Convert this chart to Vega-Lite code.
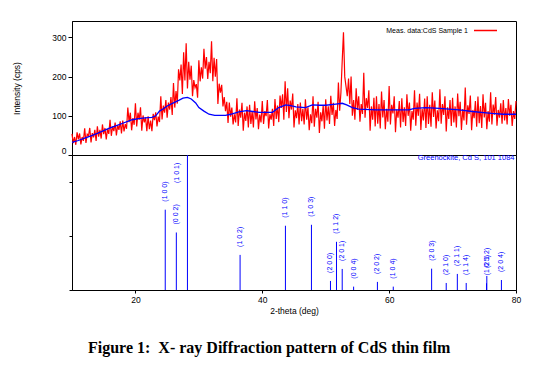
{
"$schema":"https://vega.github.io/schema/vega-lite/v6.json",
"autosize":{"type":"pad"},
"padding":{"left":11,"top":17,"right":5,"bottom":5},
"background":"#ffffff",
"spacing":0,
"bounds":"flush",
"title":{"text":"Figure 1:\u00a0 X- ray Diffraction pattern of CdS thin film","orient":"bottom","anchor":"start","frame":"group","dx":16,"offset":24,"font":"Liberation Serif","fontSize":16,"fontWeight":"bold","color":"#000000"},
"config":{"font":"Liberation Sans","view":{"stroke":"#000000","strokeWidth":1},
"axis":{"domainColor":"#000000","tickColor":"#000000","labelColor":"#000000","titleColor":"#000000","titleFontWeight":"normal","grid":false,"labelFont":"Liberation Sans","titleFont":"Liberation Sans","labelFontSize":8.5,"titleFontSize":8.5},
"legend":{"padding":0,"labelFont":"Liberation Sans"}},
"resolve":{"scale":{"color":"independent","x":"shared"},"legend":{"color":"independent"}},
"datasets":{
"meas":[
{"t":10.0,"c":54},{"t":10.2,"c":30},{"t":10.4,"c":46},{"t":10.6,"c":26},{"t":10.8,"c":58},{"t":11.0,"c":40},{"t":11.2,"c":55},{"t":11.4,"c":27},{"t":11.6,"c":46},{"t":11.8,"c":36},
{"t":12.0,"c":68},{"t":12.2,"c":31},{"t":12.4,"c":53},{"t":12.6,"c":49},{"t":12.8,"c":69},{"t":13.0,"c":32},{"t":13.2,"c":56},{"t":13.4,"c":45},{"t":13.6,"c":64},{"t":13.8,"c":36},
{"t":14.0,"c":73},{"t":14.2,"c":47},{"t":14.4,"c":64},{"t":14.6,"c":42},{"t":14.8,"c":78},{"t":15.0,"c":53},{"t":15.2,"c":69},{"t":15.4,"c":40},{"t":15.6,"c":66},{"t":15.8,"c":54},
{"t":16.0,"c":90},{"t":16.2,"c":49},{"t":16.4,"c":73},{"t":16.6,"c":61},{"t":16.8,"c":83},{"t":17.0,"c":50},{"t":17.2,"c":76},{"t":17.4,"c":64},{"t":17.6,"c":86},{"t":17.8,"c":55},
{"t":18.0,"c":88},{"t":18.2,"c":60},{"t":18.4,"c":79},{"t":18.6,"c":67},{"t":18.8,"c":121},{"t":19.0,"c":84},{"t":19.2,"c":108},{"t":19.4,"c":63},{"t":19.6,"c":94},{"t":19.8,"c":77},
{"t":20.0,"c":132},{"t":20.2,"c":73},{"t":20.4,"c":108},{"t":20.6,"c":90},{"t":20.8,"c":122},{"t":21.0,"c":62},{"t":21.2,"c":101},{"t":21.4,"c":83},{"t":21.6,"c":96},{"t":21.8,"c":61},
{"t":22.0,"c":99},{"t":22.2,"c":66},{"t":22.4,"c":88},{"t":22.6,"c":61},{"t":22.8,"c":105},{"t":23.0,"c":89},{"t":23.2,"c":109},{"t":23.4,"c":73},{"t":23.6,"c":98},{"t":23.8,"c":84},
{"t":24.0,"c":150},{"t":24.2,"c":91},{"t":24.4,"c":126},{"t":24.6,"c":108},{"t":24.8,"c":140},{"t":25.0,"c":95},{"t":25.2,"c":134},{"t":25.4,"c":116},{"t":25.6,"c":148},{"t":25.8,"c":102},
{"t":26.0,"c":184},{"t":26.2,"c":121},{"t":26.4,"c":163},{"t":26.6,"c":131},{"t":26.8,"c":219},{"t":27.0,"c":190},{"t":27.2,"c":231},{"t":27.4,"c":156},{"t":27.6,"c":262},{"t":27.8,"c":190},
{"t":28.0,"c":285},{"t":28.2,"c":170},{"t":28.4,"c":238},{"t":28.6,"c":192},{"t":28.8,"c":228},{"t":29.0,"c":150},{"t":29.2,"c":191},{"t":29.4,"c":172},{"t":29.6,"c":181},{"t":29.8,"c":146},
{"t":30.0,"c":242},{"t":30.2,"c":188},{"t":30.4,"c":224},{"t":30.6,"c":195},{"t":30.8,"c":271},{"t":31.0,"c":220},{"t":31.2,"c":250},{"t":31.4,"c":194},{"t":31.6,"c":238},{"t":31.8,"c":209},
{"t":32.0,"c":290},{"t":32.2,"c":188},{"t":32.4,"c":248},{"t":32.6,"c":200},{"t":32.8,"c":245},{"t":33.0,"c":130},{"t":33.2,"c":182},{"t":33.4,"c":159},{"t":33.6,"c":179},{"t":33.8,"c":124},
{"t":34.0,"c":148},{"t":34.2,"c":112},{"t":34.4,"c":136},{"t":34.6,"c":82},{"t":34.8,"c":134},{"t":35.0,"c":98},{"t":35.2,"c":121},{"t":35.4,"c":78},{"t":35.6,"c":104},{"t":35.8,"c":83},
{"t":36.0,"c":145},{"t":36.2,"c":74},{"t":36.4,"c":116},{"t":36.6,"c":95},{"t":36.8,"c":133},{"t":37.0,"c":62},{"t":37.2,"c":108},{"t":37.4,"c":87},{"t":37.6,"c":124},{"t":37.8,"c":70},
{"t":38.0,"c":128},{"t":38.2,"c":79},{"t":38.4,"c":112},{"t":38.6,"c":70},{"t":38.8,"c":137},{"t":39.0,"c":91},{"t":39.2,"c":120},{"t":39.4,"c":66},{"t":39.6,"c":103},{"t":39.8,"c":83},
{"t":40.0,"c":138},{"t":40.2,"c":79},{"t":40.4,"c":112},{"t":40.6,"c":99},{"t":40.8,"c":140},{"t":41.0,"c":68},{"t":41.2,"c":104},{"t":41.4,"c":90},{"t":41.6,"c":118},{"t":41.8,"c":74},
{"t":42.0,"c":143},{"t":42.2,"c":92},{"t":42.4,"c":126},{"t":42.6,"c":84},{"t":42.8,"c":152},{"t":43.0,"c":120},{"t":43.2,"c":155},{"t":43.4,"c":90},{"t":43.6,"c":188},{"t":43.8,"c":110},
{"t":44.0,"c":170},{"t":44.2,"c":94},{"t":44.4,"c":139},{"t":44.6,"c":116},{"t":44.8,"c":157},{"t":45.0,"c":70},{"t":45.2,"c":114},{"t":45.4,"c":94},{"t":45.6,"c":130},{"t":45.8,"c":78},
{"t":46.0,"c":134},{"t":46.2,"c":86},{"t":46.4,"c":118},{"t":46.6,"c":78},{"t":46.8,"c":142},{"t":47.0,"c":90},{"t":47.2,"c":122},{"t":47.4,"c":63},{"t":47.6,"c":104},{"t":47.8,"c":81},
{"t":48.0,"c":150},{"t":48.2,"c":72},{"t":48.4,"c":118},{"t":48.6,"c":95},{"t":48.8,"c":136},{"t":49.0,"c":56},{"t":49.2,"c":109},{"t":49.4,"c":86},{"t":49.6,"c":127},{"t":49.8,"c":67},
{"t":50.0,"c":142},{"t":50.2,"c":88},{"t":50.4,"c":124},{"t":50.6,"c":79},{"t":50.8,"c":151},{"t":51.0,"c":102},{"t":51.2,"c":133},{"t":51.4,"c":74},{"t":51.6,"c":115},{"t":51.8,"c":92},
{"t":52.0,"c":185},{"t":52.2,"c":113},{"t":52.4,"c":160},{"t":52.6,"c":240},{"t":52.8,"c":313},{"t":53.0,"c":200},{"t":53.2,"c":175},{"t":53.4,"c":150},{"t":53.6,"c":195},{"t":53.8,"c":130},
{"t":54.0,"c":200},{"t":54.2,"c":100},{"t":54.4,"c":140},{"t":54.6,"c":90},{"t":54.8,"c":170},{"t":55.0,"c":115},{"t":55.2,"c":150},{"t":55.4,"c":85},{"t":55.6,"c":130},{"t":55.8,"c":105},
{"t":56.0,"c":210},{"t":56.2,"c":95},{"t":56.4,"c":145},{"t":56.6,"c":120},{"t":56.8,"c":165},
{"t":57.0,"c":62},{"t":57.2,"c":124},{"t":57.4,"c":90},{"t":57.6,"c":146},{"t":57.8,"c":73},{"t":58.0,"c":150},{"t":58.2,"c":80},{"t":58.4,"c":130},{"t":58.6,"c":68},{"t":58.8,"c":162},
{"t":59.0,"c":96},{"t":59.2,"c":140},{"t":59.4,"c":66},{"t":59.6,"c":118},{"t":59.8,"c":85},{"t":60.0,"c":176},{"t":60.2,"c":78},{"t":60.4,"c":128},{"t":60.6,"c":106},{"t":60.8,"c":150},
{"t":61.0,"c":58},{"t":61.2,"c":116},{"t":61.4,"c":95},{"t":61.6,"c":138},{"t":61.8,"c":70},{"t":62.0,"c":145},{"t":62.2,"c":84},{"t":62.4,"c":122},{"t":62.6,"c":74},{"t":62.8,"c":155},
{"t":63.0,"c":100},{"t":63.2,"c":134},{"t":63.4,"c":62},{"t":63.6,"c":112},{"t":63.8,"c":90},{"t":64.0,"c":165},{"t":64.2,"c":75},{"t":64.4,"c":134},{"t":64.6,"c":100},{"t":64.8,"c":156},
{"t":65.0,"c":64},{"t":65.2,"c":118},{"t":65.4,"c":88},{"t":65.6,"c":144},{"t":65.8,"c":69},{"t":66.0,"c":150},{"t":66.2,"c":79},{"t":66.4,"c":128},{"t":66.6,"c":72},{"t":66.8,"c":160},
{"t":67.0,"c":97},{"t":67.2,"c":139},{"t":67.4,"c":68},{"t":67.6,"c":114},{"t":67.8,"c":86},{"t":68.0,"c":168},{"t":68.2,"c":80},{"t":68.4,"c":130},{"t":68.6,"c":102},{"t":68.8,"c":150},
{"t":69.0,"c":60},{"t":69.2,"c":122},{"t":69.4,"c":92},{"t":69.6,"c":140},{"t":69.8,"c":74},{"t":70.0,"c":146},{"t":70.2,"c":83},{"t":70.4,"c":124},{"t":70.6,"c":70},{"t":70.8,"c":157},
{"t":71.0,"c":99},{"t":71.2,"c":136},{"t":71.4,"c":64},{"t":71.6,"c":117},{"t":71.8,"c":88},{"t":72.0,"c":172},{"t":72.2,"c":77},{"t":72.4,"c":127},{"t":72.6,"c":105},{"t":72.8,"c":152},
{"t":73.0,"c":63},{"t":73.2,"c":115},{"t":73.4,"c":94},{"t":73.6,"c":138},{"t":73.8,"c":72},{"t":74.0,"c":149},{"t":74.2,"c":81},{"t":74.4,"c":125},{"t":74.6,"c":69},{"t":74.8,"c":155},
{"t":75.0,"c":96},{"t":75.2,"c":133},{"t":75.4,"c":66},{"t":75.6,"c":112},{"t":75.8,"c":85},{"t":76.0,"c":160},{"t":76.2,"c":78},{"t":76.4,"c":129},{"t":76.6,"c":103},{"t":76.8,"c":148},
{"t":77.0,"c":75},{"t":77.2,"c":115},{"t":77.4,"c":95},{"t":77.6,"c":132},{"t":77.8,"c":80},{"t":78.0,"c":140},{"t":78.2,"c":88},{"t":78.4,"c":120},{"t":78.6,"c":78},{"t":78.8,"c":143},
{"t":79.0,"c":100},{"t":79.2,"c":128},{"t":79.4,"c":74},{"t":79.6,"c":112},{"t":79.8,"c":92},{"t":80.0,"c":138}
],
"fit":[
{"t":10,"b":32},{"t":11,"b":37},{"t":12,"b":43},{"t":13,"b":49},{"t":14,"b":55},{"t":15,"b":62},{"t":16,"b":69},{"t":17,"b":75},{"t":18,"b":81},{"t":19,"b":87},{"t":19.5,"b":90},{"t":20.5,"b":93},{"t":21.5,"b":95},{"t":22.6,"b":96},{"t":23.2,"b":100},{"t":23.8,"b":112},{"t":24.4,"b":118},{"t":25,"b":125},{"t":26,"b":133},{"t":26.9,"b":140},{"t":27.5,"b":145},{"t":28.2,"b":147},{"t":28.8,"b":143},{"t":29.5,"b":133},{"t":30.0,"b":121},{"t":30.8,"b":112},{"t":31.6,"b":104},{"t":32.5,"b":101},{"t":34.2,"b":101},{"t":35.0,"b":104},{"t":36.3,"b":110},{"t":37.5,"b":113},{"t":38.5,"b":111},{"t":39.5,"b":109},{"t":41.6,"b":109},{"t":42.6,"b":121},{"t":43.7,"b":128},{"t":44.5,"b":126},{"t":45.3,"b":123},{"t":46.8,"b":121},{"t":47.9,"b":128},{"t":49,"b":127},{"t":50,"b":127},{"t":51.6,"b":130},{"t":52.6,"b":132},{"t":53.3,"b":128},{"t":54.2,"b":121},{"t":55.2,"b":117},{"t":58,"b":115},{"t":63.1,"b":115},{"t":64,"b":119},{"t":65.8,"b":121},{"t":67.9,"b":119},{"t":71,"b":115},{"t":72,"b":113},{"t":73.1,"b":111},{"t":74.5,"b":109},{"t":76.2,"b":106},{"t":78,"b":104},{"t":80,"b":104}
],
"ref":[
{"t":24.7,"i":59.5,"hkl":"(1 0 0)"},{"t":26.45,"i":42.6,"hkl":"(0 0 2)"},{"t":28.2,"i":100,"hkl":"(1 0 1)"},{"t":36.5,"i":26,"hkl":"(1 0 2)"},{"t":43.65,"i":47.6,"hkl":"(1 1 0)"},{"t":47.75,"i":48.3,"hkl":"(1 0 3)"},{"t":50.75,"i":6.7,"hkl":"(2 0 0)"},{"t":51.7,"i":35.7,"hkl":"(1 1 2)"},{"t":52.6,"i":15.6,"hkl":"(2 0 1)"},{"t":54.4,"i":2.5,"hkl":"(0 0 4)"},{"t":58.15,"i":6,"hkl":"(2 0 2)"},{"t":60.65,"i":2.5,"hkl":"(1 0 4)"},{"t":66.7,"i":15.8,"hkl":"(2 0 3)"},{"t":69.0,"i":5.2,"hkl":"(2 1 0)"},{"t":70.75,"i":11.9,"hkl":"(2 1 1)"},{"t":72.15,"i":5.2,"hkl":"(1 1 4)"},{"t":75.35,"i":5,"hkl":"(1 0 5)"},{"t":75.4,"i":10.4,"hkl":"(2 1 2)"},{"t":77.7,"i":7.4,"hkl":"(2 0 4)"}
]},
"vconcat":[
{"width":444,"height":134,
"layer":[
{"data":{"name":"meas"},"mark":{"type":"line","strokeWidth":1.2},
"encoding":{
"x":{"field":"t","type":"quantitative","scale":{"domain":[10,80],"nice":false,"zero":false},"axis":null},
"y":{"field":"c","type":"quantitative","scale":{"domain":[0,342],"nice":false},"axis":{"values":[0,100,200,300],"title":"Intensity (cps)","titleX":-56,"titleY":67,"titleAngle":270,"titleAlign":"center","titleBaseline":"middle","labelFlush":true,"tickSize":4,"labelPadding":2}},
"color":{"datum":"Meas. data:CdS Sample 1","type":"nominal","scale":{"domain":["Meas. data:CdS Sample 1"],"range":["#ff0000"]},"legend":{"title":null,"orient":"none","legendX":401,"legendY":-3,"symbolType":"stroke","symbolSize":529,"symbolStrokeWidth":1.5,"labelAlign":"right","labelOffset":-30,"labelFontSize":7,"labelColor":"#000000"}}}},
{"data":{"name":"fit"},"mark":{"type":"line","strokeWidth":1.3,"color":"#0000ff"},
"encoding":{"x":{"field":"t","type":"quantitative"},"y":{"field":"b","type":"quantitative"}}}
]},
{"width":444,"height":135,
"data":{"name":"ref"},
"layer":[
{"mark":{"type":"rule","strokeWidth":1},
"encoding":{
"x":{"field":"t","type":"quantitative","scale":{"domain":[10,80],"nice":false,"zero":false},"axis":{"values":[20,40,60,80],"title":"2-theta (deg)","tickSize":3,"labelFlush":false,"labelPadding":2,"titlePadding":3}},
"y":{"field":"i","type":"quantitative","scale":{"domain":[0,100],"nice":false},"axis":{"values":[0,20,40,60,80,100],"labels":false,"title":null,"tickSize":3}},
"y2":{"datum":0},
"color":{"datum":"Greenockite, Cd S, 101 1084","type":"nominal","scale":{"domain":["Greenockite, Cd S, 101 1084"],"range":["#0000ff"]},"legend":{"title":null,"orient":"none","legendX":435,"legendY":-1,"symbolType":"stroke","symbolSize":0,"symbolOpacity":0,"symbolStrokeWidth":0,"labelAlign":"right","labelOffset":0,"labelFontSize":7.5,"labelColor":"#0000ff"}}}},
{"transform":[{"filter":"datum.hkl !== '(1 0 1)'"}],
"mark":{"type":"text","angle":270,"align":"left","baseline":"middle","dx":8,"dy":0,"fontSize":7,"color":"#0000ff"},
"encoding":{"x":{"field":"t","type":"quantitative"},"y":{"field":"i","type":"quantitative"},"text":{"field":"hkl"}}},
{"transform":[{"filter":"datum.hkl === '(1 0 1)'"}],
"mark":{"type":"text","angle":270,"align":"left","baseline":"middle","dx":-28,"dy":-10,"fontSize":7,"color":"#0000ff"},
"encoding":{"x":{"field":"t","type":"quantitative"},"y":{"field":"i","type":"quantitative"},"text":{"field":"hkl"}}}
]}
]
}
